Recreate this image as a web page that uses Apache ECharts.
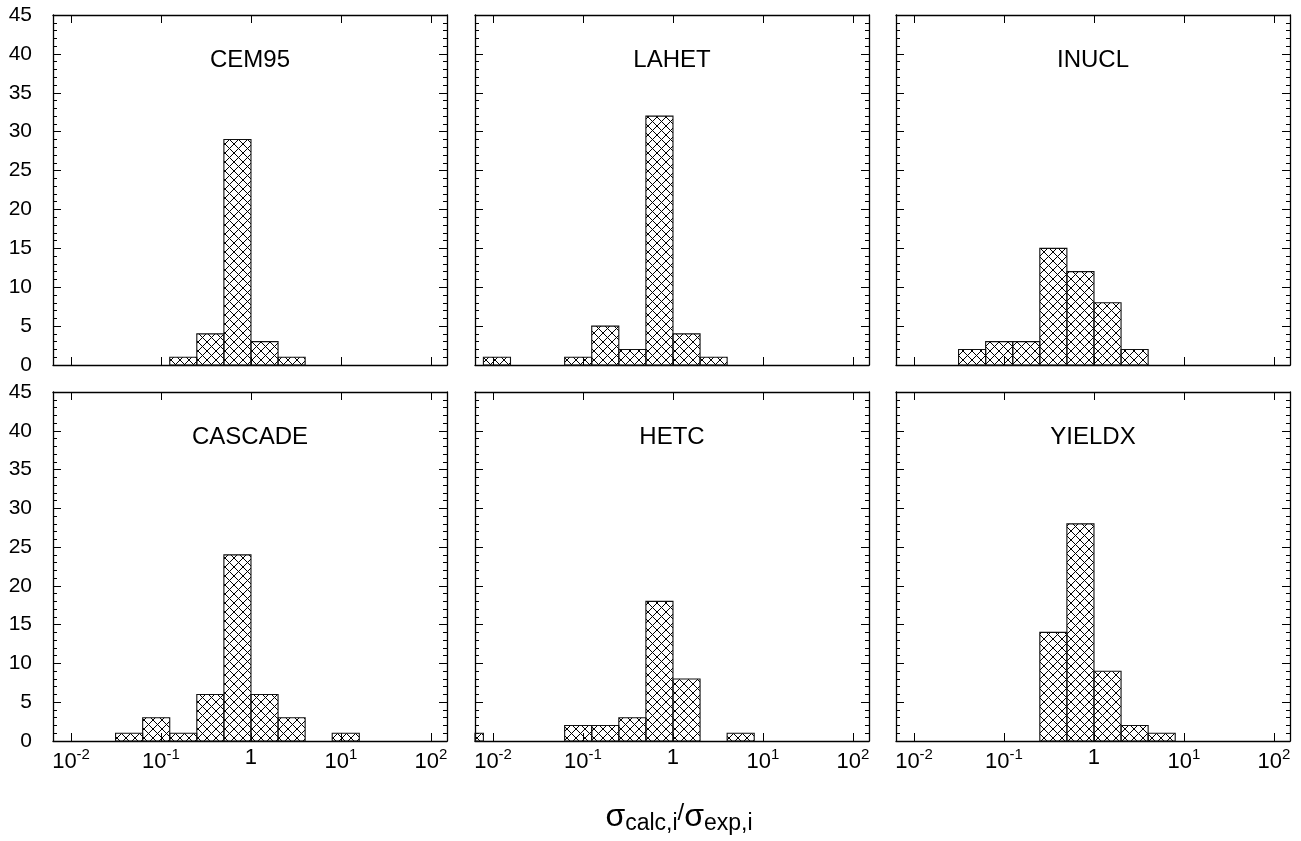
<!DOCTYPE html>
<html><head><meta charset="utf-8">
<script src="https://cdn.jsdelivr.net/npm/echarts@6.0.0/dist/echarts.min.js"></script>
<style>html,body{margin:0;padding:0;background:#fff}#c{width:1301px;height:841px}</style>
</head><body><div id="c"></div>
<script>
// ---------- data ----------
const models = ['CEM95', 'LAHET', 'INUCL', 'CASCADE', 'HETC', 'YIELDX'];
// histogram bins (factor-of-2 wide)
const binLow  = [1/256, 1/128, 1/64, 1/32, 1/16, 1/8, 1/4, 1/2, 1, 2, 4, 8, 16];
const binHigh = [1/128, 1/64, 1/32, 1/16, 1/8, 1/4, 1/2, 1, 2, 4, 8, 16, 32];
const countsCEM95   = [0, 0, 0, 0, 0, 1, 4, 29, 3, 1, 0, 0, 0];
const countsLAHET   = [0, 1, 0, 0, 1, 5, 2, 32, 4, 1, 0, 0, 0];
const countsINUCL   = [0, 0, 0, 2, 3, 3, 15, 12, 8, 2, 0, 0, 0];
const countsCASCADE = [0, 0, 0, 1, 3, 1, 6, 24, 6, 3, 0, 1, 0];
const countsHETC    = [1, 0, 0, 0, 2, 2, 3, 18, 8, 0, 1, 0, 0];
const countsYIELDX  = [0, 0, 0, 0, 0, 0, 14, 28, 9, 2, 1, 0, 0];
const allCounts = [countsCEM95, countsLAHET, countsINUCL, countsCASCADE, countsHETC, countsYIELDX];
const xTickValues = [0.01, 0.1, 1, 10, 100];
const xTickLabels = ['{b|10}{s|-2}', '{b|10}{s|-1}', '{b|1}', '{b|10}{s|1}', '{b|10}{s|2}'];
const xMin = 0.0063, xMax = 151;
const yMin = 0, yMax = 45, yStep = 5;
const xTitle = '{g|σ}{sub|calc,i}{sl|/}{g|σ}{sub|exp,i}';

// ---------- layout ----------
const FONT = 'Liberation Sans, Arial, sans-serif';
const colLeft = [53, 475, 896];
const rowTop = [15, 392];
const panelW = 394, panelH = 350;

// hatch pattern
const tile = document.createElement('canvas');
tile.width = 9; tile.height = 9;
(function () {
  const ctx = tile.getContext('2d');
  ctx.strokeStyle = '#000';
  ctx.lineWidth = 1;
  ctx.beginPath();
  for (let k = -1; k <= 1; k++) {
    ctx.moveTo(k * 9, 0); ctx.lineTo(k * 9 + 9, 9);
    ctx.moveTo(k * 9, 9); ctx.lineTo(k * 9 + 9, 0);
  }
  ctx.stroke();
})();
const hatch = { image: tile, repeat: 'repeat' };

function xLabel(v) {
  for (let i = 0; i < xTickValues.length; i++) {
    if (Math.abs(Math.log10(v) - Math.log10(xTickValues[i])) < 1e-6) return xTickLabels[i];
  }
  return '';
}

function renderItem(params, api) {
  const lo = api.value(0), hi = api.value(1), c = api.value(2);
  const p0 = api.coord([lo, 0]);
  const p1 = api.coord([hi, c]);
  const cs = params.coordSys;
  const r = echarts.graphic.clipRectByRect(
    { x: p0[0], y: p1[1], width: p1[0] - p0[0], height: p0[1] - p1[1] },
    { x: cs.x, y: cs.y, width: cs.width, height: cs.height });
  if (!r) return null;
  return { type: 'rect', shape: r, style: { fill: hatch, stroke: '#111', lineWidth: 1.1 } };
}

const grids = [], xAxes = [], yAxes = [], series = [], graphics = [];
models.forEach((name, i) => {
  const row = Math.floor(i / 3), col = i % 3;
  grids.push({ left: colLeft[col], top: rowTop[row], width: panelW, height: panelH - row, containLabel: false });
  const lineStyle = { color: '#000', width: 1.3 };
  const xBase = {
    type: 'log', logBase: 10, gridIndex: i, min: xMin, max: xMax,
    axisLine: { show: true, onZero: false, lineStyle },
    axisTick: { show: true, inside: true, length: 8, lineStyle: { color: '#000', width: 1 } },
    splitLine: { show: false }, minorTick: { show: false }, minorSplitLine: { show: false }
  };
  xAxes.push(Object.assign({}, xBase, {
    position: 'bottom',
    axisLabel: {
      show: row === 1, margin: 6, formatter: xLabel, color: '#000',
      rich: {
        b: { fontSize: 22, fontFamily: FONT, color: '#000' },
        s: { fontSize: 15, fontFamily: FONT, color: '#000', padding: [0, 0, 15, 0] }
      }
    }
  }));
  xAxes.push(Object.assign({}, xBase, { position: 'top', axisLabel: { show: false } }));
  const yBase = {
    type: 'value', gridIndex: i, min: yMin, max: yMax, interval: yStep,
    axisLine: { show: true, onZero: false, lineStyle },
    axisTick: { show: true, inside: true, length: 8, lineStyle: { color: '#000', width: 1 } },
    minorTick: { show: true, splitNumber: 5, length: 4, lineStyle: { color: '#000', width: 1 } },
    splitLine: { show: false }
  };
  yAxes.push(Object.assign({}, yBase, {
    position: 'left',
    axisLabel: { show: col === 0, margin: 21, fontSize: 21, fontFamily: FONT, color: '#000' }
  }));
  yAxes.push(Object.assign({}, yBase, { position: 'right', axisLabel: { show: false } }));

  const data = [];
  allCounts[i].forEach((c, j) => { if (c > 0) data.push([binLow[j], binHigh[j], c]); });
  series.push({
    type: 'custom', name, coordinateSystem: 'cartesian2d',
    xAxisIndex: 2 * i, yAxisIndex: 2 * i,
    encode: { x: [0, 1], y: 2 }, renderItem, data, z: 1
  });
  graphics.push({
    type: 'text', x: colLeft[col] + panelW / 2, y: rowTop[row] + 45,
    style: { text: name, font: '24px ' + FONT, fill: '#000', textAlign: 'center', align: 'center', textVerticalAlign: 'middle', verticalAlign: 'middle' }
  });
});

graphics.push({
  type: 'text', x: 679, y: 817,
  style: {
    text: xTitle, fill: '#000', align: 'center', textAlign: 'center', verticalAlign: 'middle', textVerticalAlign: 'middle',
    rich: {
      g: { fontSize: 32, fontFamily: FONT, color: '#000' },
      sub: { fontSize: 23, fontFamily: FONT, color: '#000', padding: [14, 0, 0, 0] },
      sl: { fontSize: 24, fontFamily: FONT, color: '#000', padding: [0, 0, 7, 0] }
    }
  }
});

const chart = echarts.init(document.getElementById('c'), null, { renderer: 'canvas' });
chart.setOption({
  backgroundColor: '#fff',
  animation: false,
  grid: grids, xAxis: xAxes, yAxis: yAxes, series, graphic: graphics
});
</script>
</body></html>
